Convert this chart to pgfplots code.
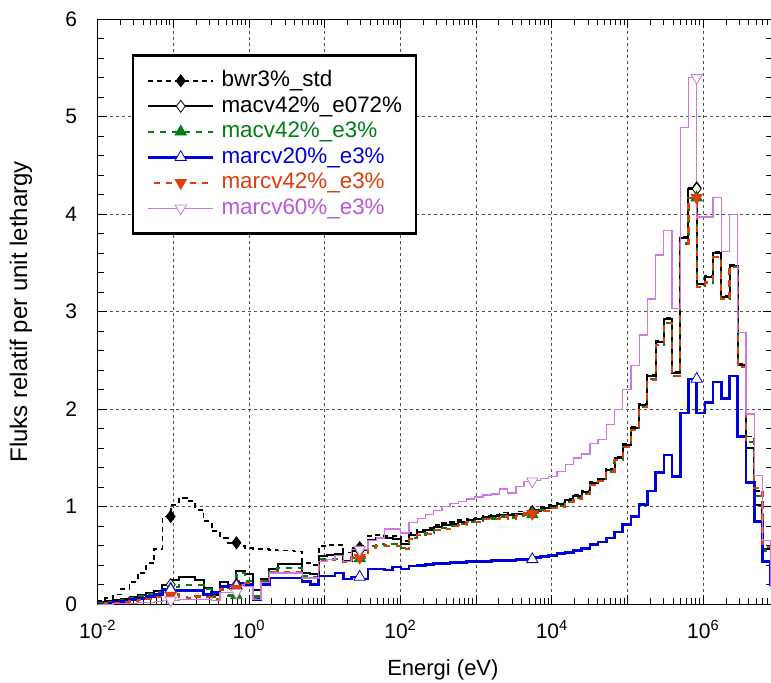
\documentclass[border=0pt]{standalone}
\usepackage{pgfplots}
\pgfplotsset{compat=1.18}
\usepackage{pgfplotstable}
\usepackage{fontspec}
\setmainfont{Liberation Sans}
\definecolor{cgreen}{RGB}{0,128,20}
\definecolor{cblue}{RGB}{0,0,220}
\definecolor{cred}{RGB}{222,62,10}
\definecolor{cpurp}{RGB}{205,120,228}
\definecolor{cpurptext}{RGB}{188,88,218}
\definecolor{cgrid}{RGB}{80,80,80}

\pgfplotstableread{
E bwr mac72 mac3 m20 m42 m60
9.736e-3 0.03 0.02 0.01 0.00 0.00 0.00
1.250e-2 0.03 0.02 0.01 0.00 0.00 0.00
1.605e-2 0.06 0.03 0.02 0.01 0.01 0.00
2.061e-2 0.10 0.04 0.03 0.02 0.01 0.01
2.646e-2 0.16 0.05 0.04 0.03 0.02 0.01
3.398e-2 0.23 0.07 0.06 0.05 0.03 0.01
4.363e-2 0.32 0.09 0.08 0.06 0.04 0.02
5.603e-2 0.42 0.11 0.10 0.08 0.05 0.02
7.194e-2 0.57 0.14 0.12 0.10 0.07 0.03
9.237e-2 0.90 0.20 0.16 0.15 0.09 0.04
0.1186 1.02 0.25 0.18 0.14 0.10 0.04
0.1523 1.09 0.28 0.20 0.14 0.07 0.05
0.1956 1.06 0.28 0.20 0.14 0.06 0.05
0.2511 0.97 0.25 0.20 0.14 0.08 0.05
0.3225 0.85 0.17 0.16 0.10 0.07 0.05
0.4140 0.75 0.09 0.08 0.12 0.05 0.04
0.5316 0.68 0.23 0.18 0.18 0.15 0.12
0.6826 0.63 0.20 0.09 0.19 0.16 0.12
0.8765 0.60 0.34 0.32 0.21 0.24 0.20
1.125 0.58 0.31 0.24 0.20 0.22 0.18
1.445 0.57 0.15 0.08 0.05 0.05 0.05
1.855 0.57 0.26 0.24 0.20 0.24 0.22
2.382 0.56 0.36 0.33 0.27 0.33 0.32
3.059 0.55 0.41 0.37 0.27 0.33 0.32
3.928 0.55 0.41 0.37 0.27 0.33 0.32
5.043 0.54 0.41 0.37 0.27 0.33 0.32
6.476 0.42 0.32 0.29 0.23 0.27 0.27
8.315 0.40 0.31 0.28 0.20 0.27 0.27
10.68 0.60 0.49 0.46 0.29 0.44 0.44
13.71 0.61 0.50 0.46 0.29 0.45 0.46
17.60 0.61 0.51 0.46 0.32 0.46 0.50
22.60 0.53 0.44 0.43 0.26 0.43 0.44
29.02 0.58 0.55 0.47 0.28 0.48 0.56
37.27 0.60 0.56 0.50 0.26 0.48 0.56
47.85 0.70 0.66 0.60 0.36 0.58 0.65
61.44 0.71 0.68 0.62 0.36 0.60 0.68
78.89 0.70 0.68 0.61 0.35 0.60 0.77
101.3 0.70 0.67 0.62 0.38 0.60 0.77
130.1 0.65 0.62 0.58 0.36 0.57 0.73
167.0 0.73 0.71 0.68 0.39 0.67 0.84
214.5 0.76 0.74 0.71 0.40 0.71 0.88
275.4 0.78 0.76 0.73 0.41 0.72 0.92
353.6 0.81 0.79 0.76 0.42 0.76 0.96
454.0 0.83 0.81 0.78 0.42 0.77 1.00
582.9 0.84 0.82 0.80 0.43 0.80 1.03
748.5 0.86 0.84 0.82 0.43 0.81 1.05
961.1 0.88 0.86 0.84 0.44 0.84 1.08
1234 0.89 0.87 0.85 0.44 0.84 1.10
1585 0.91 0.89 0.87 0.44 0.87 1.12
2035 0.92 0.90 0.88 0.45 0.87 1.13
2613 0.94 0.92 0.90 0.45 0.90 1.18
3355 0.93 0.91 0.89 0.45 0.88 1.14
4307 0.95 0.93 0.91 0.46 0.91 1.21
5531 0.95 0.94 0.92 0.46 0.93 1.26
7102 0.97 0.96 0.94 0.48 0.94 1.27
9119 1.00 0.99 0.97 0.49 0.96 1.29
1.171e4 1.02 1.01 0.99 0.50 0.99 1.31
1.503e4 1.04 1.03 1.01 0.52 1.00 1.36
1.931e4 1.08 1.07 1.05 0.53 1.05 1.43
2.479e4 1.12 1.11 1.09 0.55 1.08 1.50
3.183e4 1.16 1.15 1.13 0.57 1.13 1.54
4.087e4 1.25 1.24 1.22 0.61 1.22 1.65
5.248e4 1.29 1.28 1.26 0.64 1.26 1.69
6.738e4 1.39 1.38 1.36 0.68 1.36 1.84
8.652e4 1.51 1.50 1.48 0.74 1.48 2.00
1.111e5 1.64 1.63 1.61 0.82 1.61 2.20
1.426e5 1.82 1.81 1.79 0.90 1.79 2.45
1.832e5 2.05 2.04 2.02 1.02 2.02 2.76
2.352e5 2.35 2.34 2.31 1.16 2.30 3.13
3.020e5 2.70 2.69 2.66 1.35 2.66 3.58
3.877e5 2.94 2.93 2.88 1.53 2.88 3.83
4.979e5 2.38 2.37 2.34 1.31 2.34 3.03
6.393e5 3.77 3.76 3.70 1.96 3.70 4.89
8.208e5 4.27 4.26 4.17 2.31 4.17 5.40
1.054e6 3.29 3.28 3.25 1.96 3.25 3.97
1.353e6 3.37 3.36 3.30 2.07 3.30 3.97
1.738e6 3.61 3.60 3.56 2.28 3.56 4.17
2.231e6 3.16 3.15 3.13 2.11 3.13 3.62
2.865e6 3.48 3.47 3.46 2.34 3.46 4.00
3.679e6 2.46 2.45 2.43 1.72 2.43 2.79
4.724e6 1.72 1.60 1.66 1.25 1.68 1.95
6.065e6 1.16 1.02 1.11 0.85 1.19 1.32
7.788e6 0.57 0.57 0.55 0.44 0.59 0.65
1.0e7 0.22 0.21 0.20 0.20 0.20 0.18
}\flux

\begin{document}
\begin{tikzpicture}
\begin{axis}[
  at={(0,0)}, anchor=south west,
  scale only axis, width=674.4bp, height=585bp,
  xmode=log, xmin=1e-2, xmax=8.11e6, ymin=0, ymax=6,
  axis line style={black, line width=1bp},
  tick align=inside,
  major tick length=9bp, minor tick length=6bp,
  every tick/.style={black, line width=0.8bp},
  xtick={1e-2,1e-1,1,1e1,1e2,1e3,1e4,1e5,1e6},
  xticklabels={10\textsuperscript{-2},,10\textsuperscript{0},,10\textsuperscript{2},,10\textsuperscript{4},,10\textsuperscript{6}},
  minor xtick={2e-2,3e-2,4e-2,5e-2,6e-2,7e-2,8e-2,9e-2,
    2e-1,3e-1,4e-1,5e-1,6e-1,7e-1,8e-1,9e-1,
    2,3,4,5,6,7,8,9,
    2e1,3e1,4e1,5e1,6e1,7e1,8e1,9e1,
    2e2,3e2,4e2,5e2,6e2,7e2,8e2,9e2,
    2e3,3e3,4e3,5e3,6e3,7e3,8e3,9e3,
    2e4,3e4,4e4,5e4,6e4,7e4,8e4,9e4,
    2e5,3e5,4e5,5e5,6e5,7e5,8e5,9e5,
    2e6,3e6,4e6,5e6,6e6,7e6,8e6},
  ytick={0,1,2,3,4,5,6}, minor y tick num=4,
  grid=major,
  grid style={cgrid, line width=0.9bp, dash pattern=on 3bp off 3bp},
  ticklabel style={font=\fontsize{21bp}{21bp}\selectfont},
  xticklabel shift=13bp, yticklabel shift=17bp,
  /pgf/number format/assume math mode=true,
  xlabel={Energi (eV)},
  ylabel={Fluks relatif per unit lethargy},
  every axis x label/.style={at={(axis description cs:0.512,-0.1227)}, anchor=base, font=\fontsize{22bp}{22bp}\selectfont},
  every axis y label/.style={at={(axis description cs:-0.1136,0.5)}, rotate=90, anchor=center, font=\fontsize{24bp}{24bp}\selectfont},
  legend style={at={(axis description cs:0.0506,0.940)}, anchor=north west,
    draw=black, line width=2.5bp, fill=white,
    inner xsep=14bp, inner ysep=15bp, row sep=5bp, column sep=7bp,
    font=\fontsize{22.4bp}{25bp}\selectfont,
    nodes={inner sep=0pt, text height=16bp, text depth=4.5bp}},
  legend cell align=left,
  legend image code/.code={\draw[#1, mark indices={2}] plot coordinates {(0bp,0bp) (32.5bp,0bp) (65bp,0bp)};},
  const plot mark right,
  mark indices={9,17,32,53,73},
]
\addplot[black, line width=1.8bp, dash pattern=on 5bp off 4bp,
  mark=diamond*, mark size=6bp, mark options={solid, fill=black, line width=0.8bp}]
  table[x=E, y=bwr] {\flux};
\addlegendentry{bwr3\%\_std}
\addplot[black, line width=2bp,
  mark=diamond*, mark size=6bp, mark options={solid, fill=white, line width=0.8bp}]
  table[x=E, y=mac72] {\flux};
\addlegendentry{macv42\%\_e072\%}
\addplot[cgreen, line width=2.2bp, dash pattern=on 6bp off 6bp,
  mark=triangle*, mark size=6.5bp, mark options={solid, fill=cgreen, line width=0.8bp}]
  table[x=E, y=mac3] {\flux};
\addlegendentry{\textcolor{cgreen}{macv42\%\_e3\%}}
\addplot[cblue, line width=2.6bp,
  mark=triangle*, mark size=6.5bp, mark options={solid, fill=white, line width=0.8bp}]
  table[x=E, y=m20] {\flux};
\addlegendentry{\textcolor{cblue}{marcv20\%\_e3\%}}
\addplot[cred, line width=2.2bp, dash pattern=on 6bp off 6bp, dash phase=6bp,
  mark=triangle*, mark size=6.5bp, mark options={solid, rotate=180, fill=cred, line width=0.8bp}]
  table[x=E, y=m42] {\flux};
\addlegendentry{\textcolor{cred}{marcv42\%\_e3\%}}
\addplot[cpurp, line width=1.3bp,
  mark=triangle*, mark size=6.5bp, mark options={solid, rotate=180, fill=white, line width=0.8bp}]
  table[x=E, y=m60] {\flux};
\addlegendentry{\textcolor{cpurptext}{marcv60\%\_e3\%}}
\end{axis}
\pgfresetboundingbox
\path[use as bounding box] (-97.6bp,-78.8bp) rectangle (673.4bp,604.2bp);
\end{tikzpicture}
\end{document}
